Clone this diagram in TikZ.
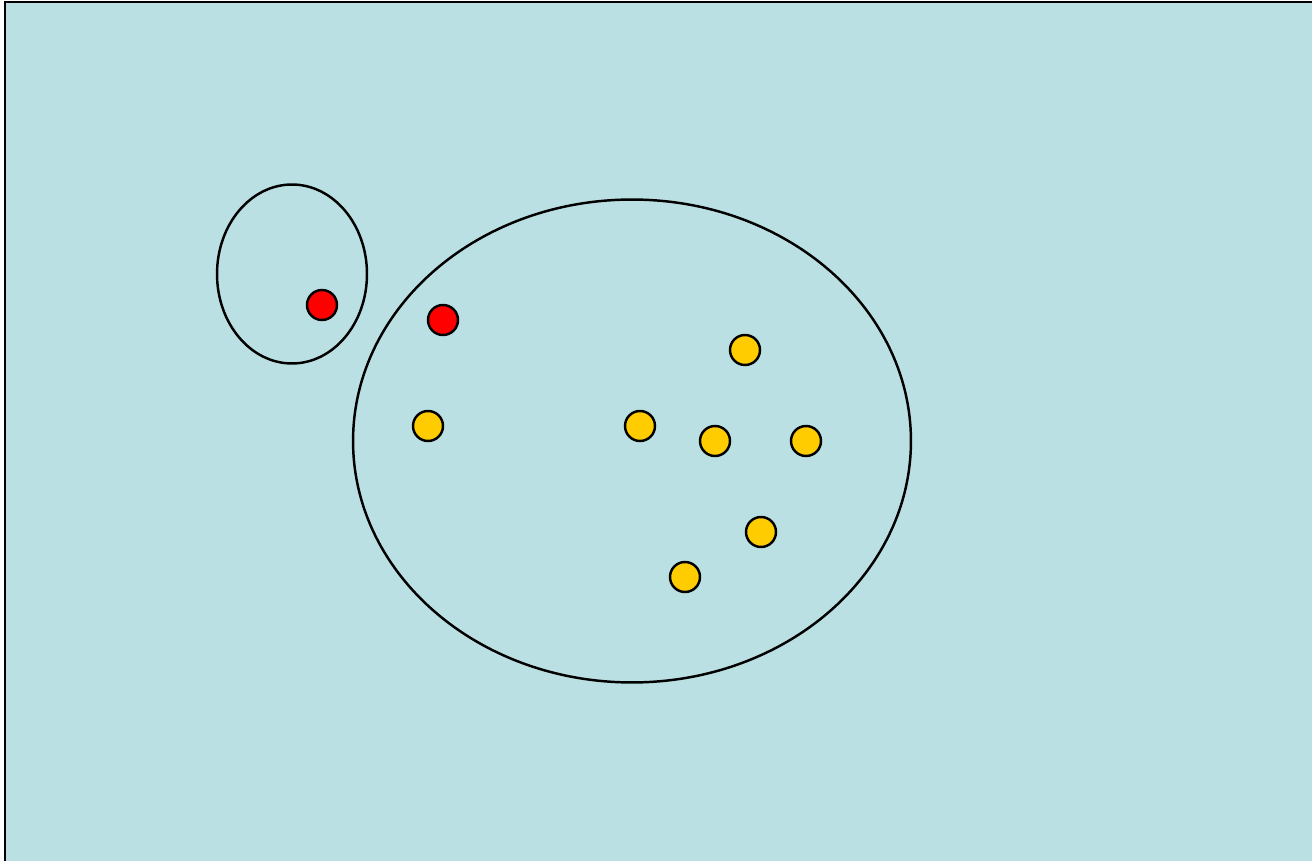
\documentclass[tikz,border=0pt]{standalone}
\usepackage{xcolor}
\usetikzlibrary{shapes.geometric, positioning}

\definecolor{fondo}{HTML}{BBE0E3}
\definecolor{amarillo}{HTML}{FFCC00}
\definecolor{rojo}{HTML}{FF0000}

\begin{document}
\begin{tikzpicture}[
    x=0.02cm, y=-0.02cm,
    dot/.style={circle, draw=black, line width=1.4pt, inner sep=0pt, minimum size=0.6cm},
    grupo/.style={ellipse, draw=black, line width=1.4pt, inner sep=0pt},
]
\useasboundingbox (0,0) rectangle (1312,861);
% ==========================================
% FONDO
% ==========================================
\draw[fill=fondo, line width=1.4pt] (5,2) rectangle (1330,880);

% ==========================================
% GRUPOS
% ==========================================
\node[grupo, minimum width=3.0cm, minimum height=3.58cm] (g1) at (292,274) {};
\node[grupo, minimum width=11.16cm, minimum height=9.66cm] (g2) at (632,441) {};

% ==========================================
% PUNTOS
% ==========================================
\node[dot, fill=rojo] (r1) at (322,305) {};
\node[dot, fill=rojo] (r2) at (443,320) {};

\foreach \n/\x/\y in {a1/745/350, a2/428/426, a3/640/426, a4/715/441,
                      a5/806/441, a6/761/532, a7/685/577} {
    \node[dot, fill=amarillo] (\n) at (\x,\y) {};
}

\end{tikzpicture}
\end{document}
